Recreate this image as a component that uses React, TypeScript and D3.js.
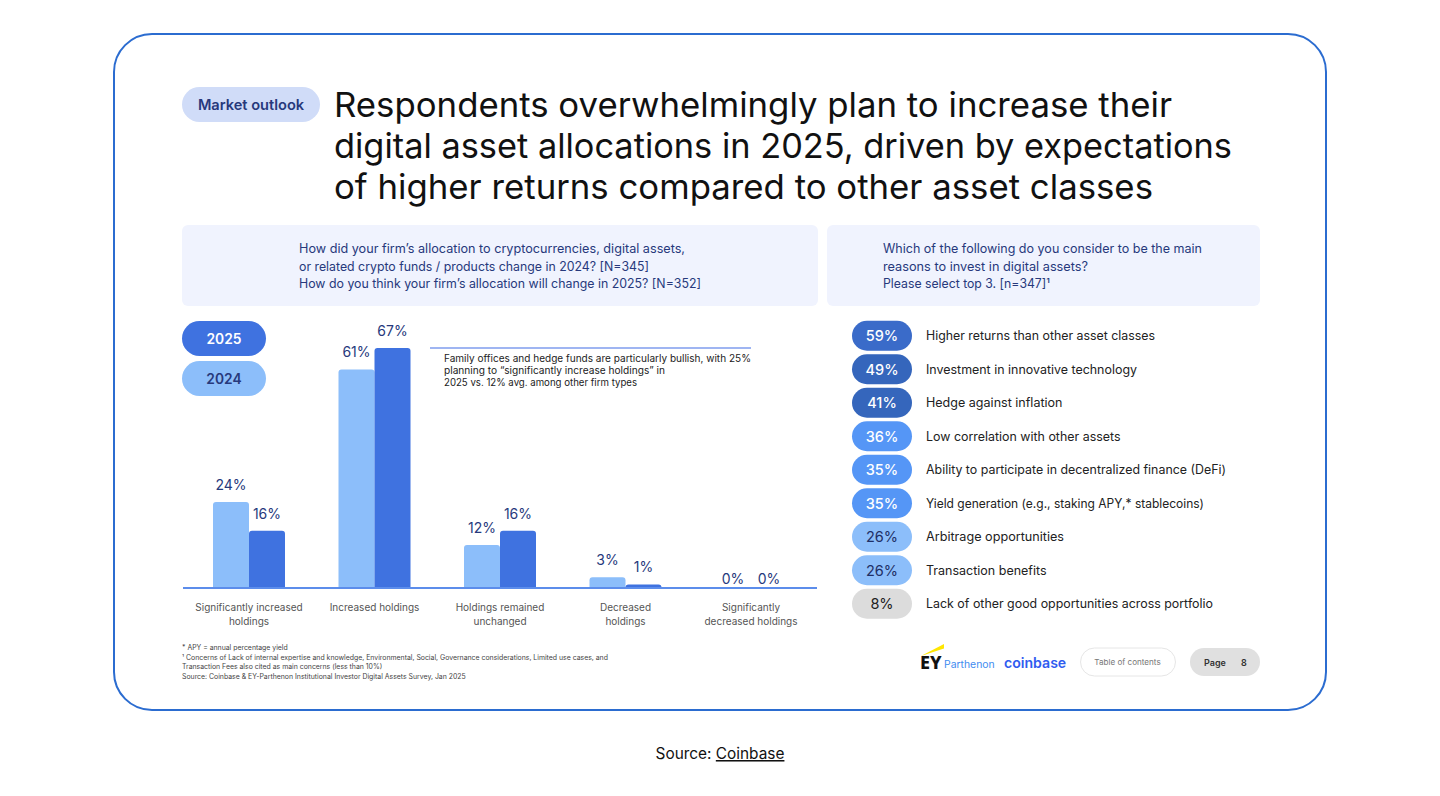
import React from "react";
import * as d3 from "d3";

const categories = [
  ["Significantly increased", "holdings"],
  ["Increased holdings"],
  ["Holdings remained", "unchanged"],
  ["Decreased", "holdings"],
  ["Significantly", "decreased holdings"],
];
const values2024 = [24, 61, 12, 3, 0];
const values2025 = [16, 67, 16, 1, 0];
const seriesYears = ["2024", "2025"];
const reasons = [
  "Higher returns than other asset classes",
  "Investment in innovative technology",
  "Hedge against inflation",
  "Low correlation with other assets",
  "Ability to participate in decentralized finance (DeFi)",
  "Yield generation (e.g., staking APY,* stablecoins)",
  "Arbitrage opportunities",
  "Transaction benefits",
  "Lack of other good opportunities across portfolio",
];
const reasonValues = [59, 49, 41, 36, 35, 35, 26, 26, 8];
const titleLines = [
  "Respondents overwhelmingly plan to increase their",
  "digital asset allocations in 2025, driven by expectations",
  "of higher returns compared to other asset classes",
];
const leftQuestion = [
  "How did your firm’s allocation to cryptocurrencies, digital assets,",
  "or related crypto funds / products change in 2024? [N=345]",
  "How do you think your firm’s allocation will change in 2025? [N=352]",
];
const rightQuestion = [
  "Which of the following do you consider to be the main",
  "reasons to invest in digital assets?",
  "Please select top 3. [n=347]¹",
];
const calloutLines = [
  "Family offices and hedge funds are particularly bullish, with 25%",
  "planning to “significantly increase holdings” in",
  "2025 vs. 12% avg. among other firm types",
];
const footnotes = [
  "* APY = annual percentage yield",
  "¹ Concerns of Lack of internal expertise and knowledge, Environmental, Social, Governance considerations, Limited use cases, and",
  "Transaction Fees also cited as main concerns (less than 10%)",
  "Source: Coinbase & EY-Parthenon Institutional Investor Digital Assets Survey, Jan 2025",
];

const FONT = "Inter, 'Noto Sans', sans-serif";
const BODY = "'Noto Sans', Inter, sans-serif";
const C25 = "#3F72E0";
const C24 = "#8CBEFA";
const NAVY = "#27397C";

const titleWidths = [838, 898, 819];
const leftWidths = [386, 350, 402];
const rightWidths = [319, 205, 167];
const calloutWidths = [307, 221, 193];
const reasonWidths = [229, 211, 136.5, 194.5, 300, 278, 138, undefined, 287];

const x0 = d3.scaleBand<number>().domain(d3.range(categories.length)).range([186.25, 813.75]);
const x1 = d3.scaleBand<string>().domain(seriesYears).range([x0.bandwidth() / 2 - 36, x0.bandwidth() / 2 + 36]);
const y = d3.scaleLinear().domain([0, 67]).range([588, 348]);
const rowY = d3.scaleBand<number>().domain(d3.range(reasons.length)).range([319, 620.5]);

function pillColor(v: number) {
  if (v >= 41) return { fill: v >= 59 ? "#3A6BC9" : "#3566BC", text: "#fff" };
  if (v >= 35) return { fill: "#5596F6", text: "#fff" };
  if (v >= 26) return { fill: "#8CBEFA", text: "#1F2F66" };
  return { fill: "#DCDCDC", text: "#222" };
}

function labelY(v: number) {
  return v === 0 ? 584 : y(v) - 12;
}

function Bar({ xp, v, fill }: { xp: number; v: number; fill: string }) {
  const h = 588 - y(v);
  if (h <= 0) return null;
  const r = Math.min(3, h);
  const w = x1.bandwidth();
  const d = `M${xp},588 V${588 - h + r} Q${xp},${588 - h} ${xp + r},${588 - h} H${xp + w - r} Q${xp + w},${588 - h} ${xp + w},${588 - h + r} V588 Z`;
  return <path d={d} fill={fill} />;
}

export default function App() {
  return (
    <svg
      width={1440}
      height={796}
      viewBox="0 0 1440 796"
      style={{ position: "absolute", left: 0, top: 0, background: "#fff" }}
    >
      <rect x={114} y={34} width={1212} height={676} rx={38} fill="#fff" stroke="#2B6CD0" strokeWidth={2} />

      <rect x={182} y={87} width={138} height={35} rx={17.5} fill="#D0DCF8" />
      <text x={251} y={109.5} textAnchor="middle" fontFamily={FONT} fontSize={14.6} fontWeight={600} fill={NAVY}>Market outlook</text>

      {titleLines.map((t, i) => (
        <text key={i} x={334} y={117 + i * 41} fontFamily={FONT} fontSize={34.5} fill="#111" textLength={titleWidths[i]} lengthAdjust="spacingAndGlyphs">{t}</text>
      ))}

      <rect x={182} y={225} width={636} height={81} rx={6} fill="#F0F3FE" />
      <rect x={827} y={225} width={433} height={81} rx={6} fill="#F0F3FE" />
      {leftQuestion.map((t, i) => (
        <text key={i} x={299} y={253 + i * 17.5} fontFamily={FONT} fontSize={12.5} fill={NAVY} textLength={leftWidths[i]} lengthAdjust="spacingAndGlyphs">{t}</text>
      ))}
      {rightQuestion.map((t, i) => (
        <text key={i} x={883} y={253 + i * 17.5} fontFamily={FONT} fontSize={12.5} fill={NAVY} textLength={rightWidths[i]} lengthAdjust="spacingAndGlyphs">{t}</text>
      ))}

      <rect x={182} y={321} width={84} height={35} rx={17.5} fill={C25} />
      <text x={224} y={344} textAnchor="middle" fontFamily={FONT} fontSize={13.8} fontWeight={600} fill="#fff">2025</text>
      <rect x={182} y={361} width={84} height={35} rx={17.5} fill={C24} />
      <text x={224} y={384} textAnchor="middle" fontFamily={FONT} fontSize={13.8} fontWeight={600} fill={NAVY}>2024</text>

      {categories.map((lines, i) => {
        const gx = x0(i)!;
        const xa = gx + x1("2024")!;
        const xb = gx + x1("2025")!;
        const w = x1.bandwidth();
        return (
          <g key={i}>
            <Bar xp={xa} v={values2024[i]} fill={C24} />
            <Bar xp={xb} v={values2025[i]} fill={C25} />
            <text x={xa + w / 2} y={labelY(values2024[i])} textAnchor="middle" fontFamily={FONT} fontSize={14} fill={NAVY}>{values2024[i]}%</text>
            <text x={xb + w / 2} y={labelY(values2025[i])} textAnchor="middle" fontFamily={FONT} fontSize={14} fill={NAVY}>{values2025[i]}%</text>
            {lines.map((l, k) => (
              <text key={k} x={gx + x0.bandwidth() / 2} y={611 + k * 14} textAnchor="middle" fontFamily={FONT} fontSize={10} fill="#555">{l}</text>
            ))}
          </g>
        );
      })}
      <line x1={183} x2={817} y1={588} y2={588} stroke="#5C8DEB" strokeWidth={2} />

      <line x1={430} x2={751} y1={348} y2={348} stroke="#7F9DEE" strokeWidth={1.5} />
      {calloutLines.map((t, i) => (
        <text key={i} x={444} y={362 + i * 12} fontFamily={FONT} fontSize={10} fill="#222" textLength={calloutWidths[i]} lengthAdjust="spacingAndGlyphs">{t}</text>
      ))}

      {reasons.map((t, i) => {
        const cy = rowY(i)! + rowY.bandwidth() / 2;
        const c = pillColor(reasonValues[i]);
        return (
          <g key={i}>
            <rect x={852} y={cy - 15} width={60} height={30} rx={15} fill={c.fill} />
            <text x={882} y={cy + 5.3} textAnchor="middle" fontFamily={FONT} fontSize={14.5} fontWeight={reasonValues[i] >= 35 ? 500 : 400} fill={c.text}>{reasonValues[i]}%</text>
            <text x={926} y={cy + 4.5} fontFamily={FONT} fontSize={12.5} fill="#222" textLength={reasonWidths[i]} lengthAdjust="spacingAndGlyphs">{t}</text>
          </g>
        );
      })}

      {footnotes.map((t, i) => (
        <text key={i} x={182} y={650 + i * 9.6} fontFamily={FONT} fontSize={6.9} fill="#444">{t}</text>
      ))}

      <path d="M921,656 L944,644 L944,648.5 Z" fill="#FFE600" />
      <text x={920} y={669} fontFamily={BODY} fontSize={18} fontWeight={800} fill="#111">EY</text>
      <text x={944} y={668} fontFamily={FONT} fontSize={10.4} fill="#3F8CF0">Parthenon</text>
      <text x={1004} y={668} fontFamily={FONT} fontSize={14.1} fontWeight={600} fill="#2F5CF0">coinbase</text>
      <rect x={1080.5} y={648} width={95} height={28} rx={14} fill="#fff" stroke="#E6E6E6" />
      <text x={1127.5} y={665} textAnchor="middle" fontFamily={FONT} fontSize={8.1} fill="#777">Table of contents</text>
      <rect x={1190} y={648} width={70} height={28} rx={14} fill="#E0E0E0" />
      <text x={1204} y={665.5} fontFamily={FONT} fontSize={9} fontWeight={600} fill="#333">Page</text>
      <text x={1241} y={665.5} fontFamily={FONT} fontSize={9} fontWeight={600} fill="#333">8</text>

      <text x={720} y={759} textAnchor="middle" fontFamily={FONT} fontSize={15.4} fill="#111">
        Source: <tspan textDecoration="underline">Coinbase</tspan>
      </text>
    </svg>
  );
}
